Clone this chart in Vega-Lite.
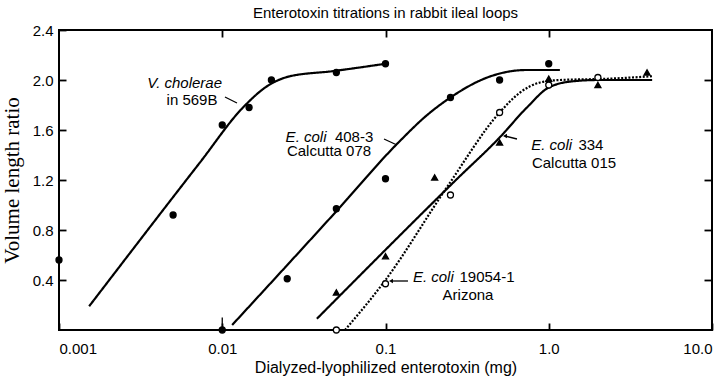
{
  "$schema": "https://vega.github.io/schema/vega-lite/v6.json",
  "autosize": {"type": "none"},
  "padding": {"left": 59, "top": 30, "right": 12, "bottom": 48},
  "width": 653,
  "height": 300,
  "background": "white",
  "title": {"text": "Enterotoxin titrations in rabbit ileal loops", "font": "Liberation Sans", "fontSize": 15, "fontWeight": "normal", "color": "black", "offset": 2, "anchor": "middle"},
  "config": {
    "view": {"stroke": "black", "strokeWidth": 2},
    "axis": {"grid": false, "domain": false, "tickColor": "black", "tickWidth": 1.8, "labelColor": "black", "titleColor": "black", "labelFont": "Liberation Sans", "titleFont": "Liberation Sans", "labelFontSize": 15, "titleFontWeight": "normal"}
  },
  "resolve": {"axis": {"x": "independent", "y": "independent"}},
  "datasets": {
    "curves": [
      {"series": "V. cholerae 569B", "x": 0.00153, "y": 0.19},
      {"series": "V. cholerae 569B", "x": 0.0073, "y": 1.34},
      {"series": "V. cholerae 569B", "x": 0.0134, "y": 1.78},
      {"series": "V. cholerae 569B", "x": 0.0188, "y": 1.95},
      {"series": "V. cholerae 569B", "x": 0.026, "y": 2.03},
      {"series": "V. cholerae 569B", "x": 0.047, "y": 2.07},
      {"series": "V. cholerae 569B", "x": 0.1, "y": 2.13},
      {"series": "E. coli 408-3", "x": 0.0115, "y": 0.04},
      {"series": "E. coli 408-3", "x": 0.05, "y": 0.95},
      {"series": "E. coli 408-3", "x": 0.12, "y": 1.5},
      {"series": "E. coli 408-3", "x": 0.18, "y": 1.72},
      {"series": "E. coli 408-3", "x": 0.25, "y": 1.86},
      {"series": "E. coli 408-3", "x": 0.42, "y": 2.02},
      {"series": "E. coli 408-3", "x": 0.73, "y": 2.08},
      {"series": "E. coli 408-3", "x": 1.17, "y": 2.08},
      {"series": "E. coli 334", "x": 0.038, "y": 0.09},
      {"series": "E. coli 334", "x": 0.27, "y": 1.2},
      {"series": "E. coli 334", "x": 0.5, "y": 1.54},
      {"series": "E. coli 334", "x": 0.735, "y": 1.78},
      {"series": "E. coli 334", "x": 1.0, "y": 1.94},
      {"series": "E. coli 334", "x": 1.41, "y": 1.99},
      {"series": "E. coli 334", "x": 2.0, "y": 2.0},
      {"series": "E. coli 334", "x": 4.3, "y": 2.0},
      {"series": "E. coli 19054-1", "x": 0.0565, "y": 0.0},
      {"series": "E. coli 19054-1", "x": 0.1, "y": 0.4},
      {"series": "E. coli 19054-1", "x": 0.24, "y": 1.15},
      {"series": "E. coli 19054-1", "x": 0.5, "y": 1.74},
      {"series": "E. coli 19054-1", "x": 0.667, "y": 1.9},
      {"series": "E. coli 19054-1", "x": 0.884, "y": 1.98},
      {"series": "E. coli 19054-1", "x": 1.17, "y": 2.0},
      {"series": "E. coli 19054-1", "x": 2.3, "y": 2.01},
      {"series": "E. coli 19054-1", "x": 4.3, "y": 2.03}
    ],
    "points": [
      {"series": "V. cholerae 569B", "x": 0.001, "y": 0.56},
      {"series": "V. cholerae 569B", "x": 0.005, "y": 0.92},
      {"series": "V. cholerae 569B", "x": 0.01, "y": 1.64},
      {"series": "V. cholerae 569B", "x": 0.0146, "y": 1.78},
      {"series": "V. cholerae 569B", "x": 0.02, "y": 2.0},
      {"series": "V. cholerae 569B", "x": 0.05, "y": 2.06},
      {"series": "V. cholerae 569B", "x": 0.1, "y": 2.13},
      {"series": "E. coli 408-3", "x": 0.01, "y": 0.0},
      {"series": "E. coli 408-3", "x": 0.025, "y": 0.41},
      {"series": "E. coli 408-3", "x": 0.05, "y": 0.97},
      {"series": "E. coli 408-3", "x": 0.1, "y": 1.21},
      {"series": "E. coli 408-3", "x": 0.25, "y": 1.86},
      {"series": "E. coli 408-3", "x": 0.5, "y": 2.0},
      {"series": "E. coli 408-3", "x": 1.0, "y": 2.13},
      {"series": "E. coli 334", "x": 0.05, "y": 0.3},
      {"series": "E. coli 334", "x": 0.1, "y": 0.59},
      {"series": "E. coli 334", "x": 0.2, "y": 1.22},
      {"series": "E. coli 334", "x": 0.5, "y": 1.5},
      {"series": "E. coli 334", "x": 1.0, "y": 2.01},
      {"series": "E. coli 334", "x": 2.0, "y": 1.96},
      {"series": "E. coli 334", "x": 4.0, "y": 2.06},
      {"series": "E. coli 19054-1", "x": 0.05, "y": 0.0},
      {"series": "E. coli 19054-1", "x": 0.1, "y": 0.37},
      {"series": "E. coli 19054-1", "x": 0.25, "y": 1.08},
      {"series": "E. coli 19054-1", "x": 0.5, "y": 1.74},
      {"series": "E. coli 19054-1", "x": 1.0, "y": 1.96},
      {"series": "E. coli 19054-1", "x": 2.0, "y": 2.02}
    ],
    "italic": [
      {"text": "V. cholerae", "x": 0.00997, "y": 1.976},
      {"text": "E. coli", "x": 0.0435, "y": 1.544},
      {"text": "E. coli", "x": 1.39, "y": 1.48},
      {"text": "E. coli", "x": 0.262, "y": 0.424}
    ],
    "plainLeft": [
      {"text": "408-3", "x": 0.049, "y": 1.544},
      {"text": "334", "x": 1.52, "y": 1.48},
      {"text": "19054-1", "x": 0.284, "y": 0.424}
    ],
    "plainCenter": [
      {"text": "in 569B", "x": 0.006527, "y": 1.84},
      {"text": "Calcutta 078", "x": 0.04507, "y": 1.432},
      {"text": "Calcutta 015", "x": 1.428, "y": 1.336},
      {"text": "Arizona", "x": 0.3201, "y": 0.28}
    ],
    "leaders": [
      {"x": 0.01039, "y": 1.864, "x2": 0.01231, "y2": 1.816},
      {"x": 0.0979, "y": 1.528, "x2": 0.1176, "y2": 1.48},
      {"x": 0.639, "y": 1.528, "x2": 0.5395, "y2": 1.552},
      {"x": 0.1373, "y": 0.392, "x2": 0.1096, "y2": 0.392},
      {"x": 0.01, "y": 0.0, "x2": 0.01, "y2": 0.1}
    ],
    "heads": [
      {"x": 0.5395, "y": 1.552},
      {"x": 0.1081, "y": 0.392}
    ]
  },
  "layer": [
    {
      "data": {"name": "curves"},
      "mark": {"type": "line", "interpolate": "monotone", "color": "black", "strokeWidth": 2.2},
      "encoding": {
        "x": {"field": "x", "type": "quantitative", "scale": {"type": "log", "domain": [0.001, 10], "nice": false},
          "axis": {"orient": "bottom", "values": [0.001, 0.01, 0.1, 1, 10], "labelExpr": "datum.value < 1 ? format(datum.value, '~r') : format(datum.value, '.1f')", "tickSize": -7, "labelPadding": 18, "title": "Dialyzed-lyophilized enterotoxin (mg)", "titleFontSize": 16, "titlePadding": 3}},
        "y": {"field": "y", "type": "quantitative", "scale": {"domain": [0, 2.4], "nice": false},
          "axis": {"orient": "left", "values": [0.4, 0.8, 1.2, 1.6, 2.0, 2.4], "format": ".1f", "tickSize": -7, "labelPadding": 13, "title": "Volume length ratio", "titleFont": "Liberation Serif", "titleFontSize": 21, "titlePadding": 10}},
        "detail": {"field": "series"},
        "strokeDash": {"field": "series", "type": "nominal", "legend": null,
          "scale": {"domain": ["V. cholerae 569B", "E. coli 408-3", "E. coli 334", "E. coli 19054-1"], "range": [[1, 0], [1, 0], [1, 0], [2, 1.6]]}}
      }
    },
    {
      "data": {"name": "points"},
      "mark": {"type": "point", "filled": true, "stroke": "black", "strokeWidth": 1.3, "opacity": 1},
      "encoding": {
        "x": {"field": "x", "type": "quantitative", "axis": {"orient": "top", "values": [0.01, 0.1, 1], "labels": false, "tickSize": -7, "title": null}},
        "y": {"field": "y", "type": "quantitative", "axis": {"orient": "right", "values": [0.4, 0.8, 1.2, 1.6, 2.0], "labels": false, "tickSize": -8, "title": null}},
        "shape": {"field": "series", "type": "nominal", "legend": null,
          "scale": {"domain": ["V. cholerae 569B", "E. coli 408-3", "E. coli 334", "E. coli 19054-1"], "range": ["circle", "circle", "triangle-up", "circle"]}},
        "fill": {"field": "series", "type": "nominal", "legend": null,
          "scale": {"domain": ["V. cholerae 569B", "E. coli 408-3", "E. coli 334", "E. coli 19054-1"], "range": ["black", "black", "black", "white"]}},
        "size": {"field": "series", "type": "nominal", "legend": null,
          "scale": {"domain": ["V. cholerae 569B", "E. coli 408-3", "E. coli 334", "E. coli 19054-1"], "range": [36, 36, 55, 24]}}
      }
    },
    {
      "data": {"name": "leaders"},
      "mark": {"type": "rule", "color": "black", "strokeWidth": 1.3},
      "encoding": {
        "x": {"field": "x", "type": "quantitative", "axis": null},
        "y": {"field": "y", "type": "quantitative", "axis": null},
        "x2": {"field": "x2"},
        "y2": {"field": "y2"}
      }
    },
    {
      "data": {"name": "heads"},
      "mark": {"type": "point", "shape": "triangle-left", "filled": true, "color": "black", "size": 20, "opacity": 1},
      "encoding": {
        "x": {"field": "x", "type": "quantitative", "axis": null},
        "y": {"field": "y", "type": "quantitative", "axis": null}
      }
    },
    {
      "data": {"name": "italic"},
      "mark": {"type": "text", "font": "Liberation Sans", "fontSize": 15, "fontStyle": "italic", "align": "right", "baseline": "middle", "color": "black"},
      "encoding": {
        "x": {"field": "x", "type": "quantitative", "axis": null},
        "y": {"field": "y", "type": "quantitative", "axis": null},
        "text": {"field": "text"}
      }
    },
    {
      "data": {"name": "plainLeft"},
      "mark": {"type": "text", "font": "Liberation Sans", "fontSize": 15, "align": "left", "baseline": "middle", "color": "black"},
      "encoding": {
        "x": {"field": "x", "type": "quantitative", "axis": null},
        "y": {"field": "y", "type": "quantitative", "axis": null},
        "text": {"field": "text"}
      }
    },
    {
      "data": {"name": "plainCenter"},
      "mark": {"type": "text", "font": "Liberation Sans", "fontSize": 15, "align": "center", "baseline": "middle", "color": "black"},
      "encoding": {
        "x": {"field": "x", "type": "quantitative", "axis": null},
        "y": {"field": "y", "type": "quantitative", "axis": null},
        "text": {"field": "text"}
      }
    }
  ]
}
